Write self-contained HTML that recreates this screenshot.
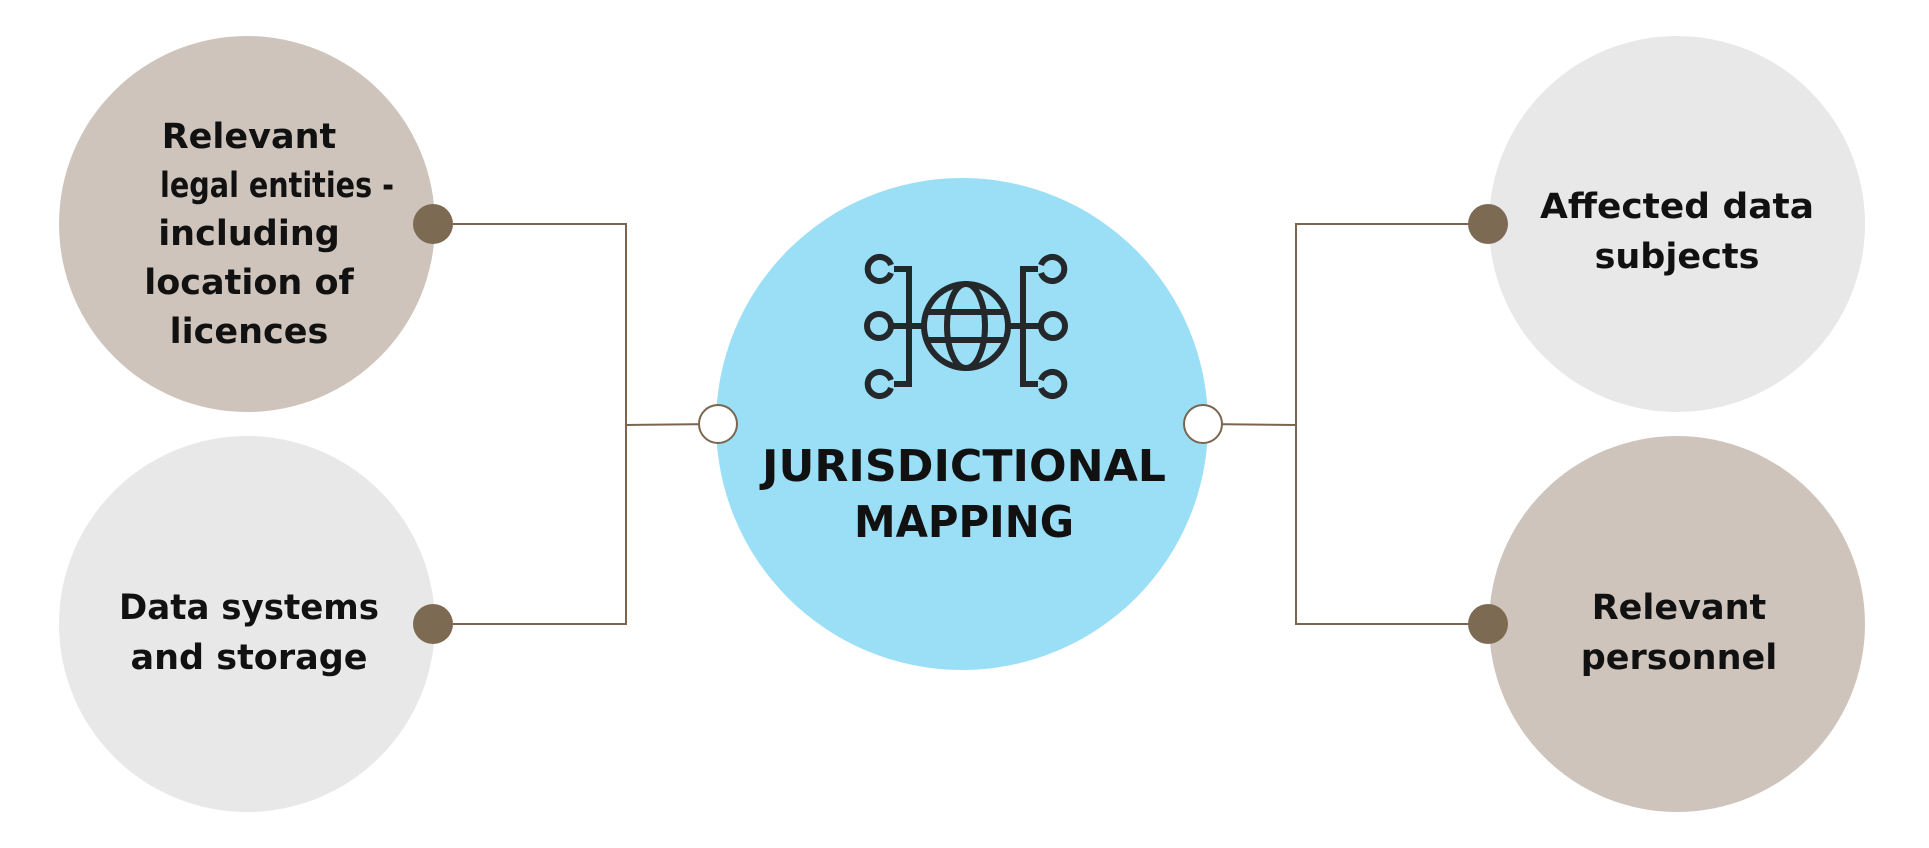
<!DOCTYPE html>
<html><head><meta charset="utf-8"><style>html,body{margin:0;padding:0;background:#fff;}svg{display:block}</style></head>
<body>
<svg width="1929" height="848" viewBox="0 0 1929 848" xmlns="http://www.w3.org/2000/svg">
<g fill="none" stroke="#7a6650" stroke-width="2">
<polyline points="433,224 626,224 626,624 433,624"/>
<line x1="626" y1="425" x2="718" y2="424"/>
<polyline points="1488,224 1296,224 1296,624 1488,624"/>
<line x1="1296" y1="425" x2="1203" y2="424"/>
</g>
<circle cx="247" cy="224" r="188" fill="#cec4bb"/>
<circle cx="247" cy="624" r="188" fill="#e8e8e8"/>
<circle cx="1677" cy="224" r="188" fill="#e8e8e8"/>
<circle cx="1677" cy="624" r="188" fill="#cec4bb"/>
<circle cx="962" cy="424" r="246" fill="#9bdff7"/>
<g fill="#7d6a53">
<circle cx="433" cy="224" r="20"/><circle cx="433" cy="624" r="20"/>
<circle cx="1488" cy="224" r="20"/><circle cx="1488" cy="624" r="20"/>
</g>
<g fill="#fff" stroke="#7a6650" stroke-width="2">
<circle cx="718" cy="424" r="19"/><circle cx="1203" cy="424" r="19"/>
</g>
<g fill="none" stroke="#25282b" stroke-width="6">
<circle cx="966" cy="326" r="42"/>
<ellipse cx="966" cy="326" rx="19" ry="42"/>
<line x1="928" y1="312" x2="1004" y2="312"/>
<line x1="928" y1="340" x2="1004" y2="340"/>
<polyline points="894,269 909,269 909,384 894,384"/>
<line x1="892" y1="326" x2="924" y2="326"/>
<circle cx="879" cy="326" r="12"/>
<path d="M891,265 A12,12 0 1 0 891,273"/>
<path d="M891,380 A12,12 0 1 0 891,388"/>
<polyline points="1038,269 1023,269 1023,384 1038,384"/>
<line x1="1040" y1="326" x2="1008" y2="326"/>
<circle cx="1053" cy="326" r="12"/>
<path d="M1041,265 A12,12 0 1 1 1041,273"/>
<path d="M1041,380 A12,12 0 1 1 1041,388"/>
</g>
<g font-family="'DejaVu Sans','Liberation Sans',sans-serif" font-weight="bold" font-size="35" fill="#111" text-anchor="middle">
<text x="249" y="148">Relevant</text>
<text x="277" y="197" textLength="234" lengthAdjust="spacingAndGlyphs">legal entities -</text>
<text x="249" y="245">including</text>
<text x="249" y="294">location of</text>
<text x="249" y="343">licences</text>
<text x="249" y="619" textLength="260" lengthAdjust="spacingAndGlyphs">Data systems</text>
<text x="249" y="669">and storage</text>
<text x="1677" y="218" textLength="274" lengthAdjust="spacingAndGlyphs">Affected data</text>
<text x="1677" y="268">subjects</text>
<text x="1679" y="619">Relevant</text>
<text x="1679" y="669">personnel</text>
<text x="964" y="481" font-size="44" textLength="404" lengthAdjust="spacingAndGlyphs">JURISDICTIONAL</text>
<text x="964" y="537" font-size="44" textLength="220" lengthAdjust="spacingAndGlyphs">MAPPING</text>
</g>
</svg>
</body></html>
